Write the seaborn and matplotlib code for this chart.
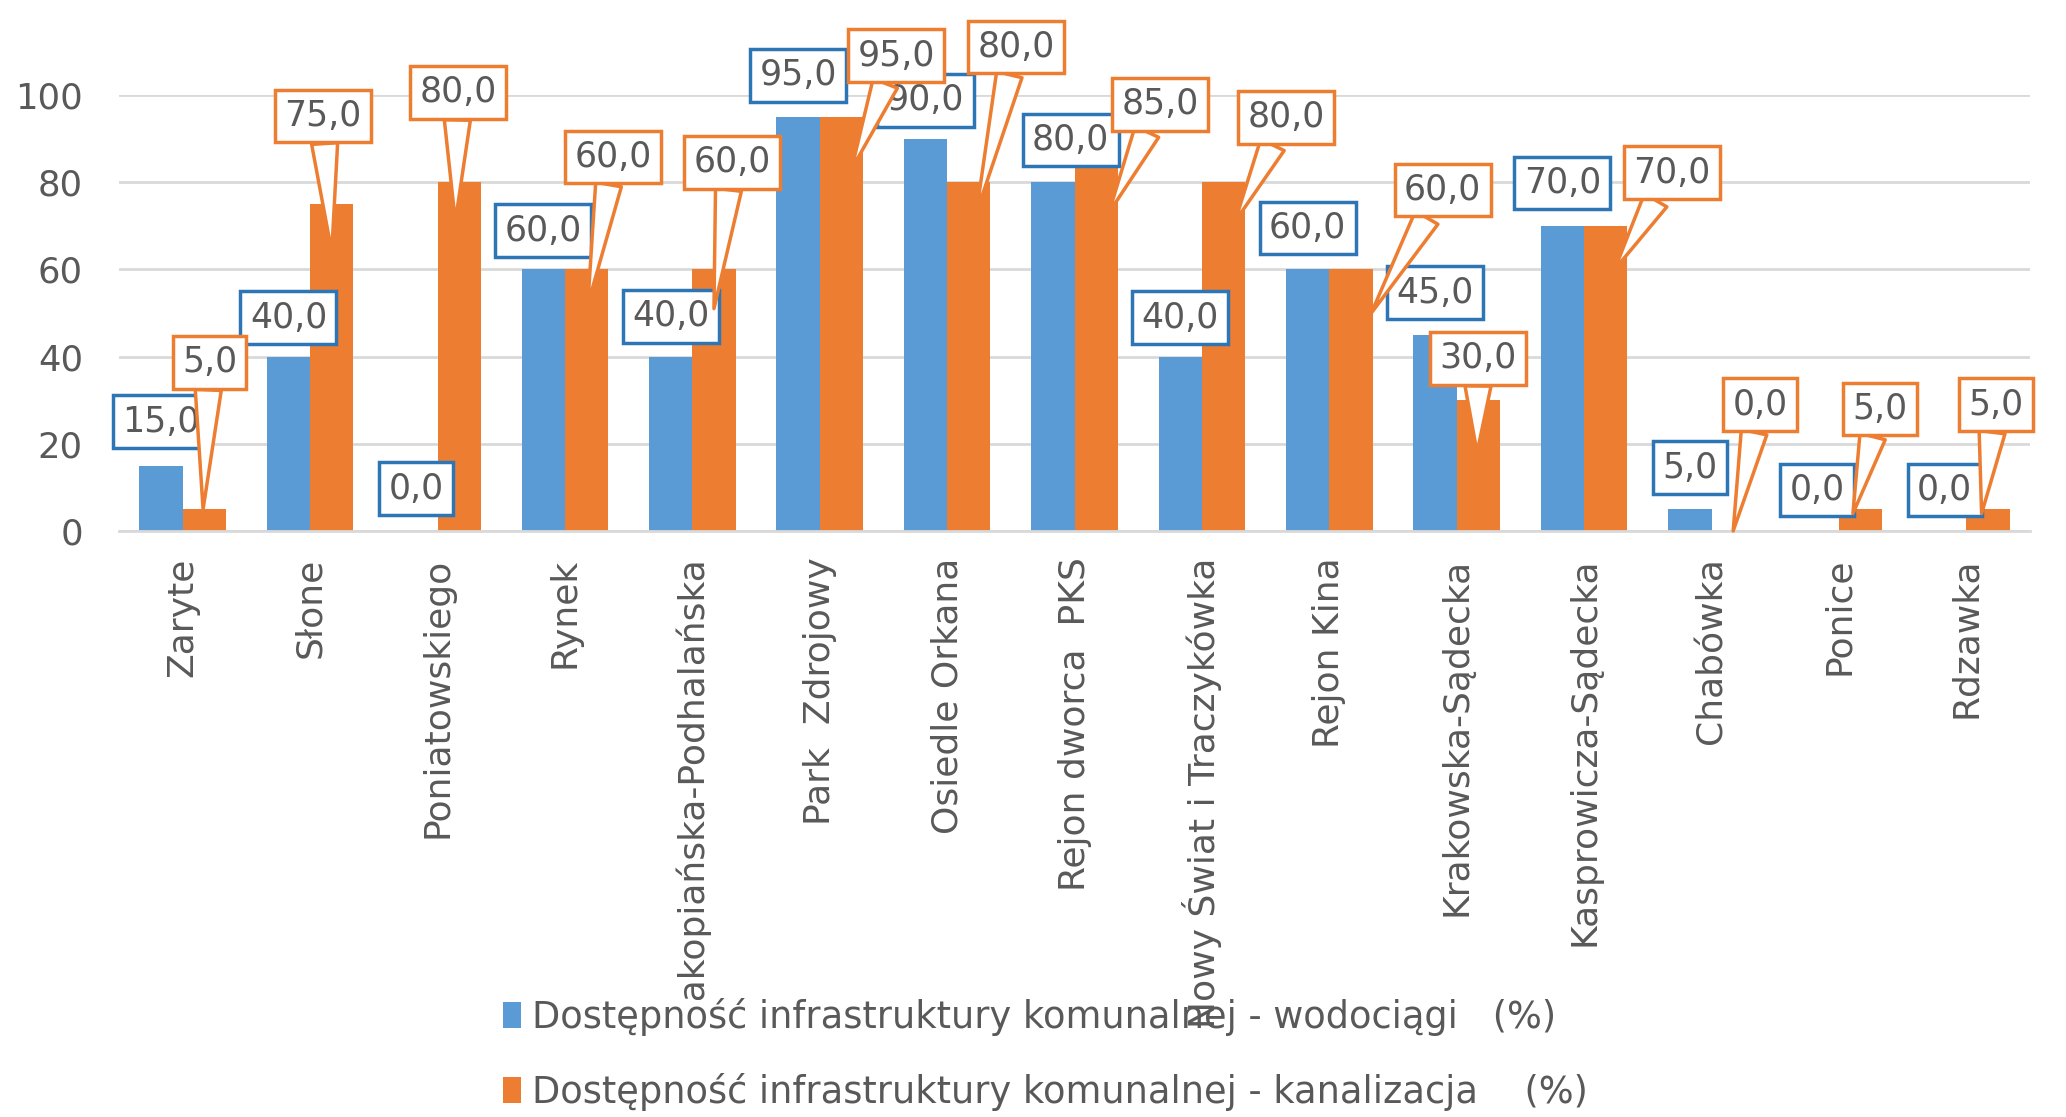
import numpy as np
import pandas as pd
import matplotlib
matplotlib.use("Agg")
import matplotlib.pyplot as plt
import seaborn as sns
from matplotlib.patches import Patch
from matplotlib.transforms import Bbox

# ---------------- data ----------------
categories = ["Zaryte", "Słone", "Poniatowskiego", "Rynek", "Zakopiańska-Podhalańska",
              "Park  Zdrojowy", "Osiedle Orkana", "Rejon dworca  PKS",
              "Nowy Świat i Traczykówka", "Rejon Kina", "Krakowska-Sądecka",
              "Kasprowicza-Sądecka", "Chabówka", "Ponice", "Rdzawka"]
wodociagi = [15, 40, 0, 60, 40, 95, 90, 80, 40, 60, 45, 70, 5, 0, 0]
kanalizacja = [5, 75, 80, 60, 60, 95, 80, 85, 80, 60, 30, 70, 0, 5, 5]
series_names = ["Dostępność infrastruktury komunalnej - wodociągi   (%)",
                "Dostępność infrastruktury komunalnej - kanalizacja    (%)"]
yticks = [0, 20, 40, 60, 80, 100]

# ---------------- layout of the data-label callouts ----------------
blue_lab_dx = [-0.17] * 7 + [-0.03] + [-0.17] * 7
blue_lab_y = [25.1, 48.9, 9.7, 68.9, 49.2, 104.5, 98.8, 89.7, 48.9, 69.5, 54.7, 79.8, 14.5, 9.4, 9.4]
or_lab_dx = [0.21, 0.10, 0.16, 0.38, 0.31, 0.60, 0.54, 0.67, 0.66, 0.89, 0.17, 0.69, 0.38, 0.32, 0.23]
or_lab_y = [38.7, 95.2, 100.6, 85.8, 84.6, 109, 111, 97.9, 94.9, 78.2, 39.6, 82.2, 29, 28, 29]
or_tip_dx = [0.16, 0.17, 0.14, 0.18, 0.17, 0.25, 0.23, 0.27, 0.26, 0.33, 0.16, 0.24, 0.17, 0.11, 0.12]
or_tip_y = [5, 64, 71, 52, 51, 83, 73, 73, 71, 50, 18, 60, 0, 4, 4]
label_clip_px = [1045] * 4 + [1000] + [1045] * 10   # bottom edge (px from top) of category labels

BLUE = "#5B9BD5"
BLUE_EDGE = "#2E75B6"
ORANGE = "#ED7D31"
GREY = "#595959"
GRID = "#D9D9D9"

df = pd.DataFrame({
    "kategoria": categories * 2,
    "wartosc": wodociagi + kanalizacja,
    "seria": [series_names[0]] * len(categories) + [series_names[1]] * len(categories),
})

sns.set_style("white")
plt.rcParams["font.family"] = ["DejaVu Sans"]

W, H = 2066, 1117
fig = plt.figure(figsize=(W / 100, H / 100), dpi=100)
ax = fig.add_axes([119 / W, 1 - 531 / H, (2030 - 119) / W, (531 - 95) / H])

sns.barplot(data=df, x="kategoria", y="wartosc", hue="seria",
            palette=[BLUE, ORANGE], saturation=1, width=0.68,
            order=categories, hue_order=series_names, ax=ax, legend=False,
            edgecolor="none", linewidth=0, zorder=2)

ax.set_ylim(0, 100)
ax.set_xlim(-0.5, len(categories) - 0.5)
ax.set_yticks(yticks)
ax.yaxis.grid(True, color=GRID, linewidth=2, zorder=0)
ax.set_axisbelow(True)
for s in ["top", "right", "left"]:
    ax.spines[s].set_visible(False)
ax.spines["bottom"].set_color(GRID)
ax.spines["bottom"].set_linewidth(2)
ax.set_xlabel("")
ax.set_ylabel("")
ax.tick_params(axis="y", length=0, pad=26, labelsize=25.5, labelcolor=GREY)
ax.tick_params(axis="x", length=0, pad=19, labelsize=26, labelcolor=GREY)
ax.set_xticks(range(len(categories)))
ax.set_xticklabels(categories, rotation=90, ha="center", va="top")

# clip long category labels as in the reference
for i, lbl in enumerate(ax.get_xticklabels()):
    bottom_px = H - label_clip_px[i]
    lbl.set_clip_box(Bbox([[0, bottom_px], [W, H]]))
    lbl.set_clip_on(True)

def fmt(v):
    return f"{v:.1f}".replace(".", ",")

# blue labels (plain boxes)
for i, v in enumerate(wodociagi):
    ax.annotate(fmt(v), xy=(i + blue_lab_dx[i], blue_lab_y[i]), ha="center", va="center",
                fontsize=25, color=GREY, annotation_clip=False, zorder=5,
                bbox=dict(boxstyle="square,pad=0.27", fc="white", ec=BLUE_EDGE, lw=2.5))

# orange labels (callouts with wedge tails)
for i, v in enumerate(kanalizacja):
    ax.annotate(fmt(v), xy=(i + or_tip_dx[i], or_tip_y[i]),
                xytext=(i + or_lab_dx[i], or_lab_y[i]), textcoords="data",
                ha="center", va="center", fontsize=25, color=GREY,
                annotation_clip=False, zorder=6,
                bbox=dict(boxstyle="square,pad=0.27", fc="white", ec=ORANGE, lw=2.5),
                arrowprops=dict(arrowstyle="wedge,tail_width=0.75,shrink_factor=0.5",
                                fc="white", ec=ORANGE, lw=2.5,
                                shrinkA=0, shrinkB=0))

handles = [Patch(facecolor=BLUE, edgecolor="none"), Patch(facecolor=ORANGE, edgecolor="none")]
fig.legend(handles, series_names, loc="upper left", bbox_to_anchor=(503 / W, 1 - 998 / H),
           frameon=False, fontsize=26.5, labelcolor=GREY, handlelength=0.5, handleheight=0.7,
           handletextpad=0.3, labelspacing=1.0, borderpad=0, borderaxespad=0)

fig.savefig("out.png", dpi=100, facecolor="white")
